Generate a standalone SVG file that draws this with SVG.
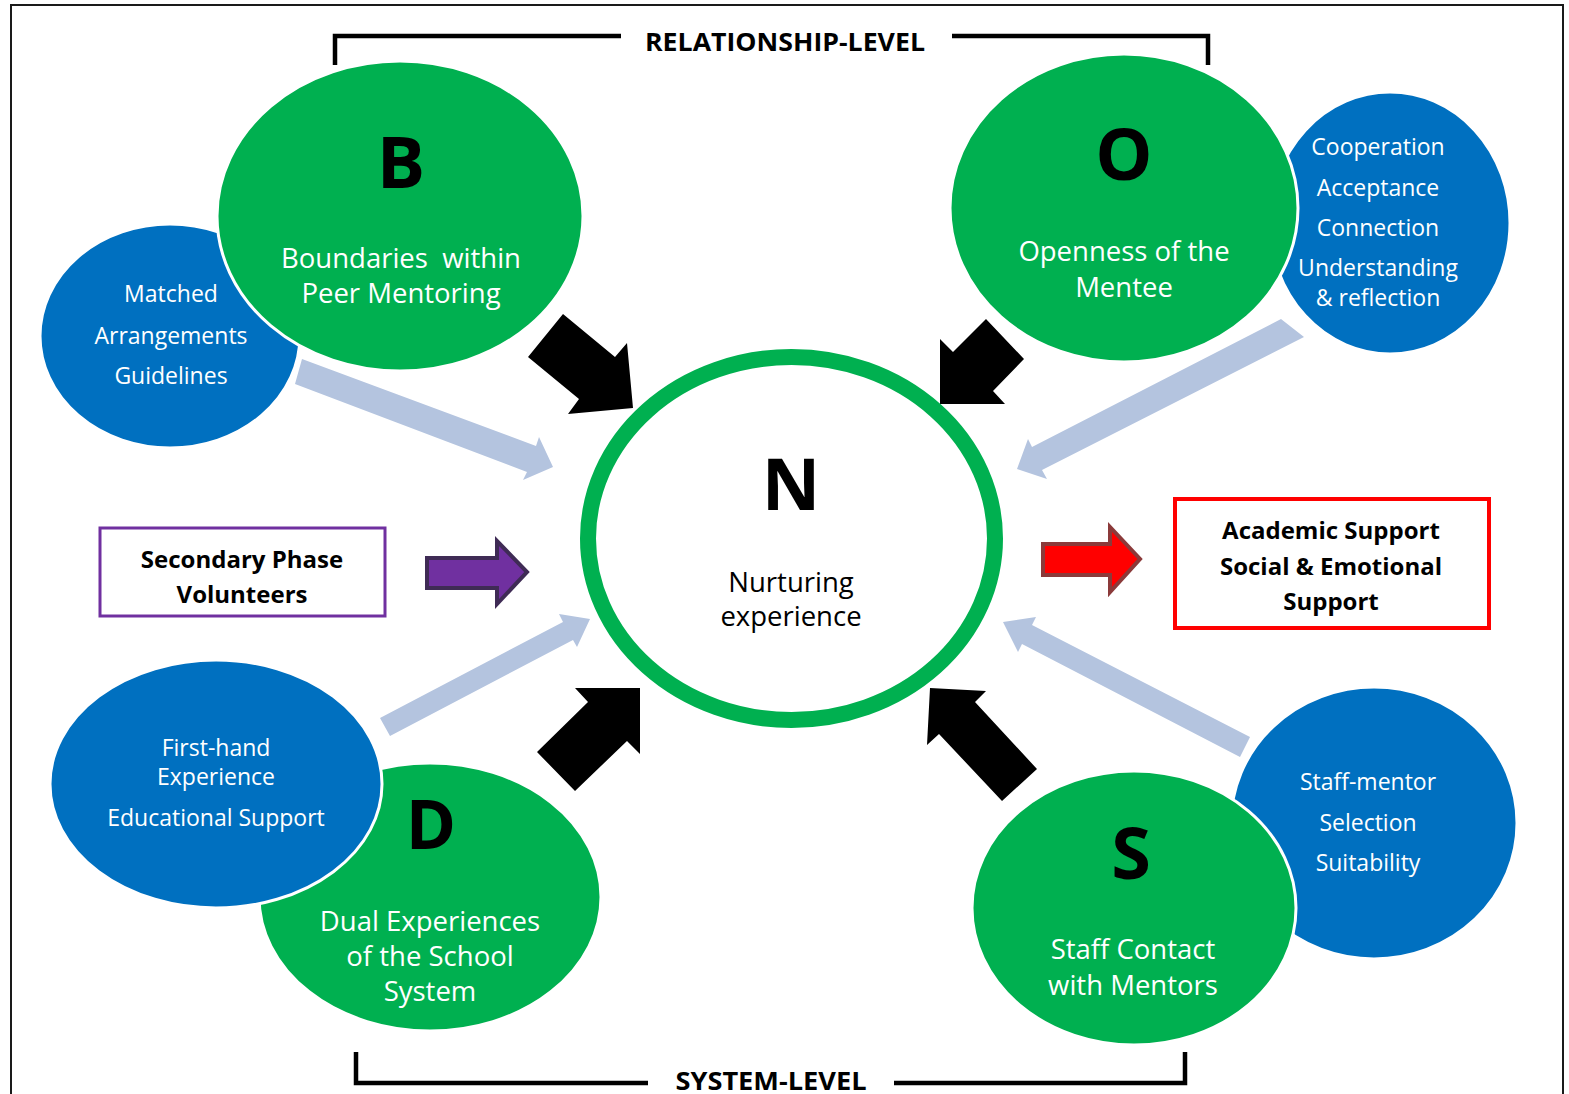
<svg xmlns="http://www.w3.org/2000/svg" width="1569" height="1094" viewBox="0 0 1569 1094">
<style>
.g{fill:#00B050;stroke:#fff;stroke-width:3}
.b{fill:#0070C0;stroke:#fff;stroke-width:3}
.wt{font-family:"Open Sans","Noto Sans",sans-serif;fill:#fff;text-anchor:middle}
.w28{font-size:27.5px}
.w23{font-size:23px}
.big{font-family:"Open Sans","Noto Sans",sans-serif;font-weight:bold;font-size:72px;fill:#000;text-anchor:middle}
.bt{font-family:"Open Sans","Noto Sans",sans-serif;font-weight:bold;font-size:24px;fill:#000;text-anchor:middle}
.nt{font-family:"Open Sans","Noto Sans",sans-serif;font-size:27.5px;fill:#000;text-anchor:middle}
.blk{fill:#000}
.lb{fill:#B4C4DF}
.br{fill:none;stroke:#000;stroke-width:4.5}
</style>
<rect width="1569" height="1094" fill="#fff"/>
<path d="M11,1094 V5 H1563 V1094" fill="none" stroke="#1a1a1a" stroke-width="2"/>
<g id="brackets">
<path class="br" d="M335,65 V36 H621 M952,36 H1208 V65"/>
<text class="bt" x="785" y="51" style="font-size:25px" textLength="280" lengthAdjust="spacingAndGlyphs">RELATIONSHIP-LEVEL</text>
<path class="br" d="M356,1052 V1083 H648 M894,1083 H1185 V1052"/>
<text class="bt" x="771" y="1090" style="font-size:25px" textLength="191" lengthAdjust="spacingAndGlyphs">SYSTEM-LEVEL</text>
</g>
<g id="connectors">
<polygon class="lb" points="302,359 536,446 539,437 553,467 523,480 527,472 295,384"/>
<polygon class="lb" points="1281,319 1304,337 1042,470 1047,479 1017,469 1028,439 1032,447"/>
<polygon class="lb" points="380,718 563,622 559,614 590,619 577,647 573,640 390,736"/>
<polygon class="lb" points="1250,737 1032,625 1036,617 1003,622 1018,652 1022,644 1240,757"/>
<polygon class="blk" points="528,357 563,314 615,357 627,343 633,408 568,414 579,399"/>
<polygon class="blk" points="986,319 1024,359 993,391 1005,404 940,404 940,339 953,352"/>
<polygon class="blk" points="575,688 640,688 640,754 627,741 575,791 537,752 588,702"/>
<polygon class="blk" points="930,688 986,691 975,702 1037,769 1002,801 939,734 927,745"/>
<polygon points="427,558 497,558 497,541 527,572 497,604 497,588 427,588" fill="#7030A0" stroke="#3F2B55" stroke-width="4"/>
<polygon points="1043,544 1110,544 1110,527 1140,559 1110,592 1110,575 1043,575" fill="#FF0000" stroke="#8B3A3A" stroke-width="4"/>
</g>
<g id="matched">
<ellipse class="b" cx="170" cy="336" rx="130" ry="112"/>
<text class="wt w23" x="171" y="302">Matched</text>
<text class="wt w23" x="171" y="344">Arrangements</text>
<text class="wt w23" x="171" y="384">Guidelines</text>
</g>
<g id="B">
<ellipse class="g" cx="400" cy="216" rx="183" ry="155"/>
<text class="big" x="401" y="188">B</text>
<text class="wt w28" x="401" y="268" xml:space="preserve" style="white-space:pre">Boundaries  within</text>
<text class="wt w28" x="401" y="303">Peer Mentoring</text>
</g>
<g id="cooperation">
<ellipse class="b" cx="1390" cy="223" rx="120" ry="131"/>
<text class="wt w23" x="1378" y="155">Cooperation</text>
<text class="wt w23" x="1378" y="196">Acceptance</text>
<text class="wt w23" x="1378" y="236">Connection</text>
<text class="wt w23" x="1378" y="276">Understanding</text>
<text class="wt w23" x="1378" y="306">&amp; reflection</text>
</g>
<g id="O">
<ellipse class="g" cx="1124" cy="208" rx="174" ry="154"/>
<text class="big" x="1124" y="180">O</text>
<text class="wt w28" x="1124" y="261">Openness of the</text>
<text class="wt w28" x="1124" y="297">Mentee</text>
</g>
<g id="N">
<ellipse cx="791.5" cy="538.5" rx="203.5" ry="181.5" fill="#fff" stroke="#00B050" stroke-width="16"/>
<text class="big" x="791" y="510">N</text>
<text class="nt" x="791" y="592">Nurturing</text>
<text class="nt" x="791" y="626">experience</text>
</g>
<g id="D">
<ellipse class="g" cx="430" cy="897" rx="171" ry="134"/>
<text class="big" x="431" y="849" style="font-size:68px">D</text>
<text class="wt w28" x="430" y="931">Dual Experiences</text>
<text class="wt w28" x="430" y="966">of the School</text>
<text class="wt w28" x="430" y="1001">System</text>
</g>
<g id="firsthand">
<ellipse class="b" cx="216" cy="784" rx="166" ry="124"/>
<text class="wt w23" x="216" y="756">First-hand</text>
<text class="wt w23" x="216" y="785">Experience</text>
<text class="wt w23" x="216" y="826">Educational Support</text>
</g>
<g id="staffmentor">
<ellipse class="b" cx="1374" cy="823" rx="143" ry="136"/>
<text class="wt w23" x="1368" y="790">Staff-mentor</text>
<text class="wt w23" x="1368" y="831">Selection</text>
<text class="wt w23" x="1368" y="871">Suitability</text>
</g>
<g id="S">
<ellipse class="g" cx="1134" cy="908" rx="162" ry="137"/>
<text class="big" x="1131" y="879">S</text>
<text class="wt w28" x="1133" y="959">Staff Contact</text>
<text class="wt w28" x="1133" y="995">with Mentors</text>
</g>
<g id="volunteers">
<rect x="100" y="528" width="285" height="88" fill="#fff" stroke="#7030A0" stroke-width="3"/>
<text class="bt" x="242" y="568">Secondary Phase</text>
<text class="bt" x="242" y="603">Volunteers</text>
</g>
<g id="outcome">
<rect x="1175" y="499" width="314" height="129" fill="#fff" stroke="#FF0000" stroke-width="4"/>
<text class="bt" x="1331" y="539">Academic Support</text>
<text class="bt" x="1331" y="575">Social &amp; Emotional</text>
<text class="bt" x="1331" y="610">Support</text>
</g>
</svg>
